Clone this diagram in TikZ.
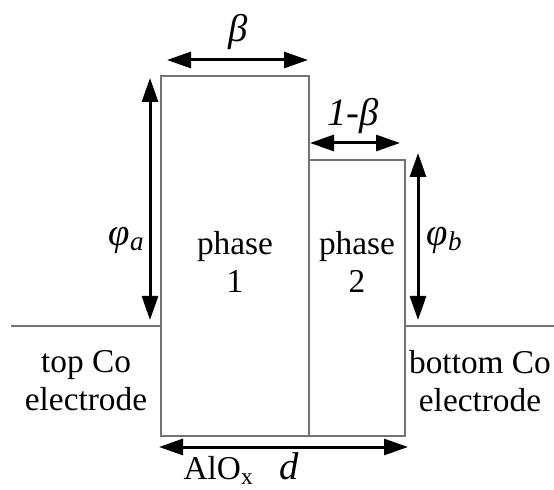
\documentclass[tikz,border=0pt]{standalone}
\usepackage{fontspec}
\setmainfont{Liberation Serif}
\usetikzlibrary{arrows.meta,positioning}
\tikzset{
  >={Triangle[length=7.2pt, width=4.8pt]},
  barrier/.style={draw=black!55, line width=0.45pt},
  dim/.style={<->, line width=0.9pt},
  lbl/.style={align=center, inner sep=0pt, font=\fontsize{10}{11.4}\selectfont},
  sym/.style={inner sep=0pt, font=\fontsize{11.6}{13}\selectfont\itshape},
}

\begin{document}
\begin{tikzpicture}[x=0.3pt, y=-0.3pt]
  \useasboundingbox (0,0) rectangle (554,490);

  % corners of the two barrier phases
  \coordinate (p1sw) at (161,436);
  \coordinate (p1ne) at (309,76);
  \coordinate (p2sw) at (309,436);
  \coordinate (p2ne) at (405,160);

  % electrode levels
  \coordinate (topend) at (11,326);
  \coordinate (topjoin) at (161,326);
  \coordinate (botjoin) at (405,326);
  \coordinate (botend) at (554,326);

  \draw[barrier] (p1sw) rectangle (p1ne);
  \draw[barrier] (p2sw) rectangle (p2ne);
  \draw[barrier] (topend) -- (topjoin);
  \draw[barrier] (botjoin) -- (botend);

  % dimension arrows
  \coordinate (betaL) at (167,60);
  \coordinate (betaR) at (308,60);
  \coordinate (obetaL) at (310,143);
  \coordinate (obetaR) at (400,143);
  \coordinate (phiaT) at (150,78);
  \coordinate (phiaB) at (150,320);
  \coordinate (phibT) at (418,153);
  \coordinate (phibB) at (418,320);
  \coordinate (dL) at (159,447);
  \coordinate (dR) at (408,447);

  \draw[dim] (betaL) -- (betaR);
  \draw[dim] (obetaL) -- (obetaR);
  \draw[dim] (phiaT) -- (phiaB);
  \draw[dim] (phibT) -- (phibB);
  \draw[dim] (dL) -- (dR);

  % labels
  \node[sym] (beta) at (238,32) {β};
  \node[sym] (obeta) at (353,116) {1-β};
  \node[sym] (phia) at (127,240) {φ\textsubscript{a}};
  \node[sym] (phib) at (445,240) {φ\textsubscript{b}};
  \node[lbl] (phase1) at (235,262) {phase\\1};
  \node[lbl] (phase2) at (357,262) {phase\\2};
  \node[lbl] (topel) at (86,381) {top Co\\electrode};
  \node[lbl] (botel) at (480,381) {bottom Co\\electrode};
  \node[lbl] (alox) at (219,470) {AlO\textsubscript{x}};
  \node[sym] (dlen) at (289,466) {d};
\end{tikzpicture}
\end{document}
